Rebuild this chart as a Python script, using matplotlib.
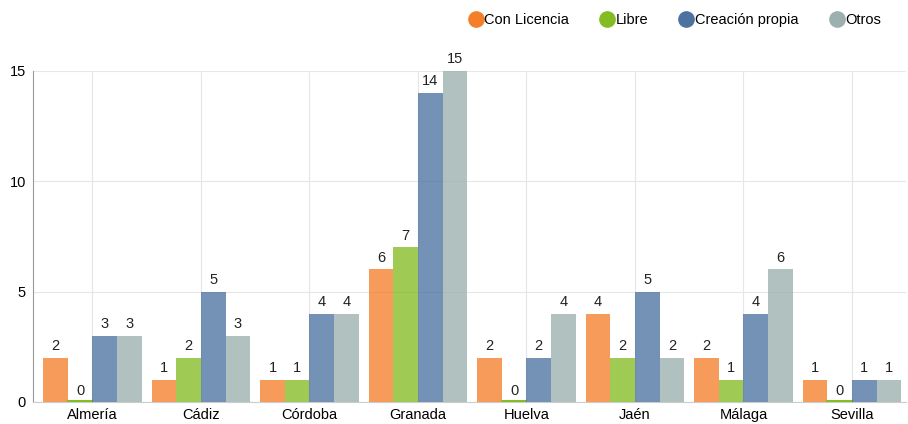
import matplotlib.pyplot as plt
import numpy as np
from matplotlib.lines import Line2D

provincias = ["Almería", "Cádiz", "Córdoba", "Granada", "Huelva", "Jaén", "Málaga", "Sevilla"]
con_licencia = [2, 1, 1, 6, 2, 4, 2, 1]
libre = [0, 2, 1, 7, 0, 2, 1, 0]
creacion_propia = [3, 5, 4, 14, 2, 5, 4, 1]
otros = [3, 3, 4, 15, 4, 2, 6, 1]

series = [
    ("Con Licencia", con_licencia, "#F47F2B"),
    ("Libre", libre, "#84BC24"),
    ("Creación propia", creacion_propia, "#4C73A0"),
    ("Otros", otros, "#9BB0AF"),
]

plt.rcParams['font.family'] = ['Liberation Sans', 'DejaVu Sans']
fig = plt.figure(figsize=(9.08, 4.24), dpi=100)
ax = fig.add_axes([33 / 908, 0.052, 873 / 908, 0.781])

x = np.arange(len(provincias))
w = 0.227
for i, (nombre, vals, color) in enumerate(series):
    pos = x + (i - 1.5) * w
    bars = ax.bar(pos, vals, w, color=color, alpha=0.78, zorder=3)
    for b, v in zip(bars, vals):
        if v == 0:
            ax.plot([b.get_x(), b.get_x() + w], [0.03, 0.03], color=color, lw=1.5, zorder=3)
        ax.text(b.get_x() + w / 2, v + 0.2, str(v), ha="center", va="bottom",
                fontsize=10.5, color="#222222", zorder=4, clip_on=False,
                bbox=dict(facecolor="white", edgecolor="none", pad=0.5))

ax.set_xlim(-0.548, len(provincias) - 0.502)
ax.set_ylim(0, 15)
ax.set_yticks([0, 5, 10, 15])
ax.set_xticks(x)
ax.set_xticklabels(provincias, fontsize=10.5)
ax.tick_params(axis="y", labelsize=10.5, length=0, pad=5)
ax.tick_params(axis="x", length=0, pad=4)
ax.grid(True, color="#e6e6e6", lw=0.8, zorder=0)
for s in ["top", "right"]:
    ax.spines[s].set_visible(False)
ax.spines["left"].set_color("#999999")
ax.spines["bottom"].set_color("#cccccc")

handles = [Line2D([], [], marker="o", ls="", markersize=11, color=c, label=n) for n, _, c in series]
fig.legend(handles=handles, loc="upper right", bbox_to_anchor=(0.985, 1.0), ncol=4,
           frameon=False, fontsize=10.5, handletextpad=-0.4, columnspacing=1.6)

fig.savefig("out.png", dpi=100)
